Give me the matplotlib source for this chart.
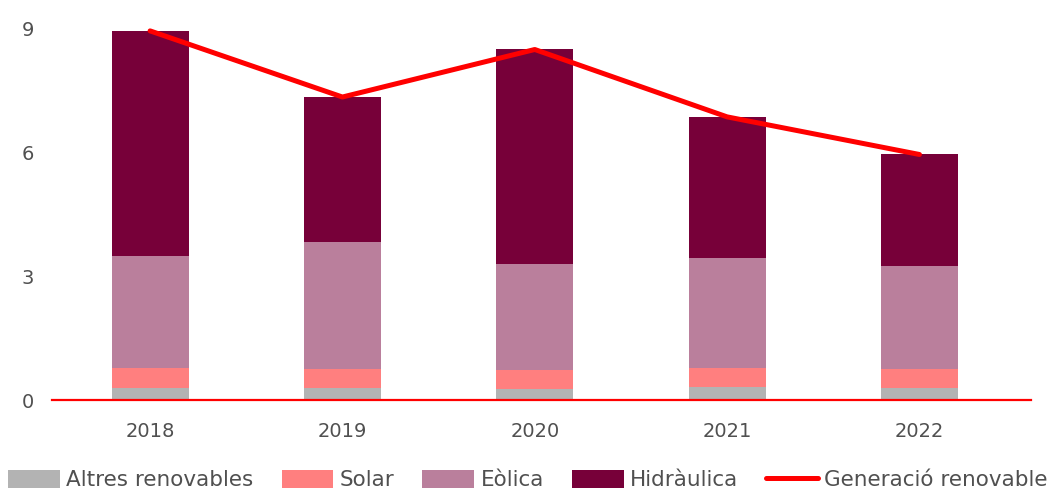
import numpy as np
import matplotlib
matplotlib.use("Agg")
import matplotlib.pyplot as plt

years = ["2018", "2019", "2020", "2021", "2022"]
altres = [0.30, 0.30, 0.27, 0.31, 0.30]
solar = [0.47, 0.44, 0.45, 0.46, 0.46]
eolica = [2.72, 3.08, 2.57, 2.67, 2.48]
hidraulica = [5.44, 3.51, 5.19, 3.41, 2.70]
generacio = [8.93, 7.33, 8.48, 6.85, 5.94]

plt.rcParams['font.family'] = ['DejaVu Sans']
txt = '#505050'

fig = plt.figure(figsize=(10.56, 4.92), dpi=100)
ax = fig.add_axes([52/1056, 92/492, 979/1056, 372/492])

x = np.arange(len(years))
w = 0.40
b1 = np.array(altres)
b2 = b1 + np.array(solar)
b3 = b2 + np.array(eolica)
h1 = ax.bar(x, altres, w, color='#B3B3B3', label='Altres renovables', zorder=2)
h2 = ax.bar(x, solar, w, bottom=b1, color='#FF7F7F', label='Solar', zorder=2)
h3 = ax.bar(x, eolica, w, bottom=b2, color='#BA7F9C', label='Eòlica', zorder=2)
h4 = ax.bar(x, hidraulica, w, bottom=b3, color='#770039', label='Hidràulica', zorder=2)
h5, = ax.plot(x, generacio, color='#FF0000', lw=3.6, solid_capstyle='round',
              label='Generació renovable', zorder=3)

ax.axhline(0, color='#FF0000', lw=1.6, zorder=4, clip_on=False)
ax.set_xlim(-0.51, 4.58)
ax.set_ylim(0, 9)
ax.set_yticks([0, 3, 6, 9])
ax.set_xticks(x)
ax.set_xticklabels(years)
for s in ax.spines.values():
    s.set_visible(False)
ax.tick_params(length=0, labelsize=14, labelcolor=txt)
ax.tick_params(axis='y', pad=22)
ax.tick_params(axis='x', pad=16)
for t in ax.get_yticklabels():
    t.set_horizontalalignment('left')

leg = fig.legend(handles=[h1, h2, h3, h4, h5], loc='center',
                 bbox_to_anchor=(0.5, 12/492), ncol=5,
                 frameon=False, fontsize=15.5, handlelength=2.4, handleheight=0.95,
                 columnspacing=1.3, handletextpad=0.3, borderaxespad=0)
for t in leg.get_texts():
    t.set_color(txt)

fig.savefig('out.png', dpi=100)
